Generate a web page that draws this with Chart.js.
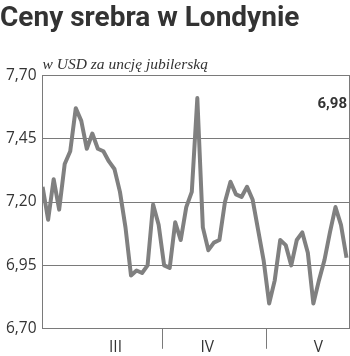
<!DOCTYPE html>
<html>
<head>
<meta charset="utf-8">
<script src="https://cdn.jsdelivr.net/npm/chart.js@4/dist/chart.umd.min.js"></script>
<style>
  body { margin: 0; background: #fff; }
  canvas { display: block; }
</style>
</head>
<body>
<canvas id="chart" width="350" height="356"></canvas>
<script>
  // silver price, USD per troy ounce, daily (March - May)
  const prices = [
    7.26, 7.13, 7.29, 7.17, 7.35, 7.40, 7.57, 7.52, 7.41, 7.47,
    7.41, 7.40, 7.36, 7.33, 7.24, 7.10, 6.91, 6.93, 6.92, 6.95,
    7.19, 7.11, 6.95, 6.94, 7.12, 7.05, 7.18, 7.24, 7.61, 7.10,
    7.01, 7.04, 7.05, 7.20, 7.28, 7.23, 7.22, 7.26, 7.21, 7.09,
    6.97, 6.80, 6.89, 7.05, 7.03, 6.95, 7.05, 7.08, 7.00, 6.80,
    6.89, 6.97, 7.08, 7.18, 7.11, 6.98,
  ];
  const days = prices.map((v, i) => i);

  // month labels and where the months split (in day index units)
  const monthLabels = ["III", "IV", "V"];
  const monthCenters = [13.2, 29.8, 49.9];
  const monthBreaks = [21.75, 40.6];

  const yTicks = [6.7, 6.95, 7.2, 7.45, 7.7];

  const xTicks = monthCenters
    .map((v, i) => ({ value: v, label: monthLabels[i] }))
    .concat(monthBreaks.map((v) => ({ value: v, label: "" })))
    .sort((a, b) => a.value - b.value);

  const fmt = (v) => v.toFixed(2).replace(".", ",");
  const lineGrey = "#7a7a7a";
  const textCol = "#333";
  const tickFont = { family: "Open Sans", size: 15.5 };

  // last value written in the top right corner
  const lastValueLabel = {
    id: "lastValueLabel",
    afterDraw(chart) {
      const { ctx, chartArea } = chart;
      ctx.save();
      ctx.font = "bold 15px Roboto";
      ctx.fillStyle = textCol;
      ctx.textAlign = "right";
      ctx.textBaseline = "middle";
      ctx.fillText(fmt(prices[prices.length - 1]), chartArea.right - 2, chartArea.top + 29);
      ctx.restore();
    },
  };

  new Chart(document.getElementById("chart"), {
    type: "line",
    data: {
      labels: days,
      datasets: [
        {
          data: prices.map((v, i) => ({ x: days[i], y: v })),
          borderColor: "#808080",
          borderWidth: 4,
          pointRadius: 0,
          tension: 0,
          borderJoinStyle: "round",
        },
      ],
    },
    options: {
      responsive: false,
      animation: false,
      layout: { padding: { left: 0, right: 1, top: 0, bottom: 0 } },
      plugins: {
        legend: { display: false },
        tooltip: { enabled: false },
        title: {
          display: true,
          text: "Ceny srebra w Londynie",
          align: "start",
          color: textCol,
          font: { family: "Roboto", weight: "bold", size: 28 },
          padding: { top: 2, bottom: 20 },
        },
        subtitle: {
          display: true,
          text: "w USD za uncję jubilerską",
          align: "start",
          fullSize: false,
          color: textCol,
          font: { family: "Liberation Serif", style: "italic", size: 15.5 },
          padding: { top: 0, bottom: 1 },
        },
      },
      scales: {
        x: {
          type: "linear",
          min: 0,
          max: 55.45,
          afterBuildTicks: (scale) => {
            scale.ticks = xTicks.map((t) => ({ value: t.value }));
          },
          ticks: {
            autoSkip: false,
            maxRotation: 0,
            padding: -11,
            color: textCol,
            font: tickFont,
            callback: (v, i) => xTicks[i].label,
          },
          // empty title only keeps room below the month labels
          title: { display: true, text: " ", font: { size: 8 }, padding: { top: 0, bottom: 1 } },
          grid: {
            drawOnChartArea: false,
            tickLength: 20,
            color: (c) => (c.tick && monthBreaks.includes(c.tick.value) ? lineGrey : "rgba(0,0,0,0)"),
          },
          border: { display: true, color: lineGrey },
        },
        y: {
          min: 6.7,
          max: 7.7,
          afterBuildTicks: (scale) => {
            scale.ticks = yTicks.map((v) => ({ value: v }));
          },
          ticks: {
            padding: 6,
            color: textCol,
            font: tickFont,
            callback: (v) => fmt(v),
          },
          grid: { color: lineGrey, drawTicks: false },
          border: { display: true, color: lineGrey },
        },
        y2: {
          position: "right",
          min: 6.7,
          max: 7.7,
          ticks: { display: false },
          grid: { drawOnChartArea: false, drawTicks: false },
          border: { display: true, color: lineGrey },
        },
      },
    },
    plugins: [lastValueLabel],
  });
</script>
</body>
</html>
